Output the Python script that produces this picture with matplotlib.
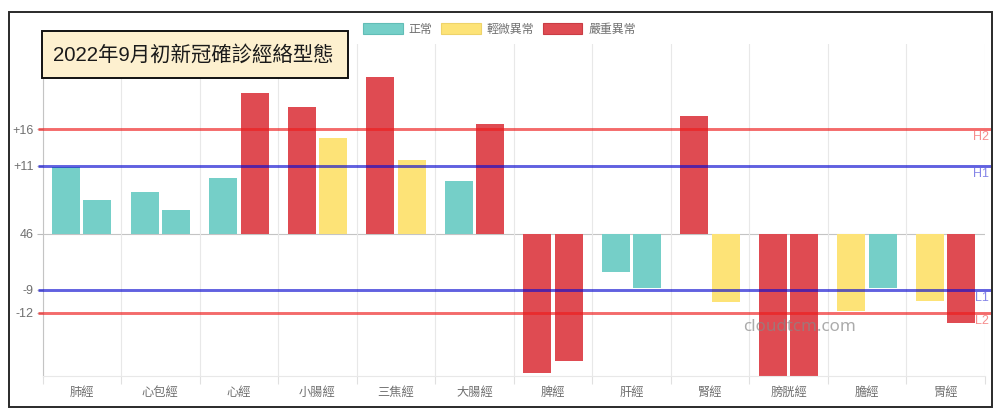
import numpy as np
import matplotlib
matplotlib.use("Agg")
import matplotlib.pyplot as plt
from matplotlib.patches import Patch, Rectangle

plt.rcParams['font.family'] = ['Liberation Sans', 'Noto Sans CJK TC', 'DejaVu Sans']

# Chart data
meridians = ["肺經", "心包經", "心經", "小腸經", "三焦經", "大腸經",
             "脾經", "肝經", "腎經", "膀胱經", "膽經", "胃經"]
left_values = [10.5, 6.5, 8.7, 19.8, 24.5, 8.3, -21.8, -5.9, 18.5, -22.2, -12.1, -10.4]
right_values = [5.3, 3.75, 22.1, 15.0, 11.5, 17.2, -19.8, -8.4, -10.7, -22.2, -8.4, -13.9]
# 0 = 正常, 1 = 輕微異常, 2 = 嚴重異常
left_levels = [0, 0, 0, 2, 2, 0, 2, 0, 2, 2, 1, 1]
right_levels = [0, 0, 2, 1, 1, 2, 2, 0, 1, 2, 0, 2]
level_names = ["正常", "輕微異常", "嚴重異常"]
level_colors = ["#75cfc8", "#fde377", "#df4b52"]
level_edges = ["#62bdb6", "#eed36a", "#c93c44"]

# Axis ticks are not labelled with their plotted value
tick_values = [16.4, 10.7, 0, -8.75, -12.3]
tick_labels = ["+16", "+11", "46", "-9", "-12"]

# Threshold lines
line_values = [16.4, 10.7, -8.75, -12.3]
line_names = ["H2", "H1", "L1", "L2"]
line_colors = ["#ee1c1c", "#0c0cd0", "#0c0cd0", "#ee1c1c"]

W, H = 1000, 418
fig = plt.figure(figsize=(W / 100, H / 100), dpi=100, facecolor="white")
ax = fig.add_axes([42.5 / W, (H - 376) / H, 942.5 / W, 332 / H])

x = np.arange(len(meridians))
bar_width = 0.356
offset = 0.2
ax.bar(x - offset, left_values, bar_width,
       color=[level_colors[i] for i in left_levels], zorder=2)
ax.bar(x + offset, right_values, bar_width,
       color=[level_colors[i] for i in right_levels], zorder=2)

ax.set_xlim(-0.5, len(meridians) - 0.5)
ax.set_ylim(-22.2, 29.7)

# Grid between the categories, with the tick running below the plot
ax.set_xticks(x)
ax.set_xticklabels(meridians, fontsize=8.8, color="#707070")
ax.set_xticks(np.arange(len(meridians) + 1) - 0.5, minor=True)
ax.tick_params(axis="x", which="major", length=0, pad=8)
ax.tick_params(axis="x", which="minor", length=5.8, color="#e0e0e0", width=0.8)
ax.grid(True, axis="x", which="minor", color="#e8e8e8", lw=0.8, zorder=0)
ax.set_yticks(tick_values)
ax.set_yticklabels(tick_labels, fontsize=9, color="#707070")
ax.tick_params(axis="y", length=4.5, color="#bbbbbb", width=0.8, pad=2)

for side in ["top", "right"]:
    ax.spines[side].set_visible(False)
ax.spines["left"].set_color("#c4c4c4")
ax.spines["left"].set_linewidth(0.8)
ax.spines["bottom"].set_color("#e8e8e8")
ax.spines["bottom"].set_linewidth(0.8)
ax.axhline(0, color="#c4c4c4", lw=0.8, zorder=1)

# Threshold lines run past both ends of the plot
line_start = (38 - 42.5) / 942.5
line_end = (991 - 42.5) / 942.5
for value, name, color in zip(line_values, line_names, line_colors):
    ax.axhline(value, xmin=line_start, xmax=line_end, color=color, alpha=0.65,
               lw=2.1, zorder=3, clip_on=False, solid_capstyle="butt")
    ax.annotate(name, xy=(1, value), xycoords=("axes fraction", "data"),
                xytext=(3, -6), textcoords="offset points", ha="right", va="center",
                fontsize=9, color=color, alpha=0.5, annotation_clip=False)

handles = [Patch(facecolor=c, edgecolor=e, lw=0.8, label=n)
           for c, e, n in zip(level_colors, level_edges, level_names)]
fig.legend(handles=handles, loc="center", bbox_to_anchor=(499.5 / W, (H - 29.5) / H), ncol=3,
           frameon=False, fontsize=8.6, labelcolor="#707070", handlelength=3.3,
           handleheight=1.0, handletextpad=0.5, columnspacing=0.75, borderpad=0, borderaxespad=0)

# Outer frame and title box
fig.add_artist(Rectangle((8.5 / W, (H - 406.5) / H), 983 / W, 394.5 / H, transform=fig.transFigure,
                         facecolor="none", edgecolor="#2a2a2a", lw=1.4, zorder=5))
fig.add_artist(Rectangle((42 / W, (H - 77.5) / H), 306 / W, 46 / H, transform=fig.transFigure,
                         facecolor="#fdf0cf", edgecolor="#111111", lw=1.4, zorder=6))
fig.text(193 / W, (H - 54.5) / H, "2022年9月初新冠確診經絡型態", ha="center", va="center",
         fontsize=14.7, color="#1a1a1a", zorder=7)

# Watermark
fig.text(800 / W, (H - 327) / H, "cloudtcm.com", ha="center", va="center",
         fontsize=12.2, color="#888888", alpha=0.7, zorder=8,
         family=["Noto Sans", "DejaVu Sans"])

fig.savefig("out.png", dpi=100)
